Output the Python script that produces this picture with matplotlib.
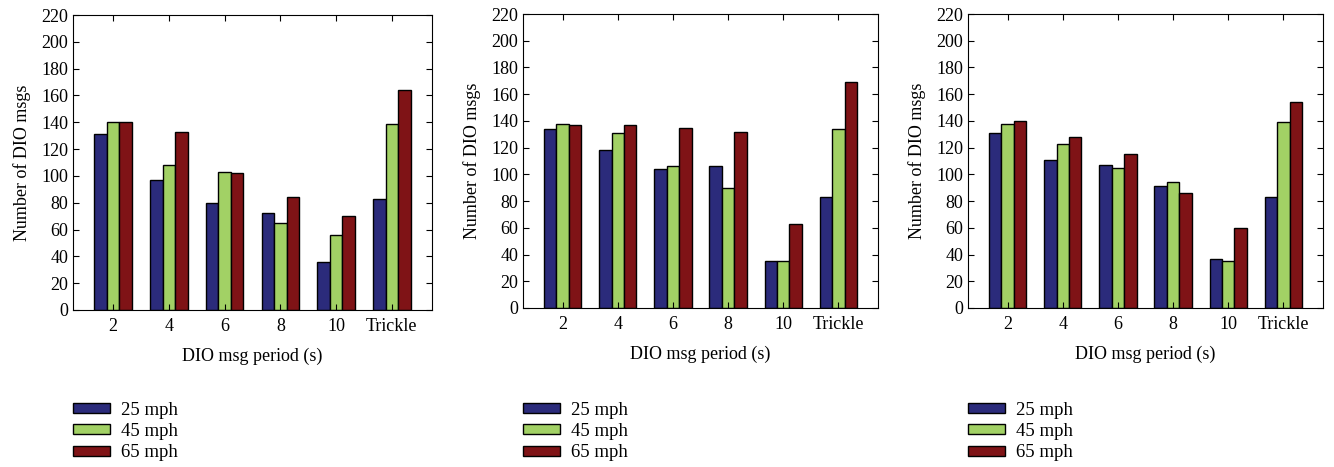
import numpy as np
import matplotlib
matplotlib.use("Agg")
import matplotlib.pyplot as plt
from matplotlib.patches import Patch

plt.rcParams['font.family'] = ['Liberation Serif', 'DejaVu Serif']

categories = ["2", "4", "6", "8", "10", "Trickle"]
series = ["25 mph", "45 mph", "65 mph"]
colors = ["#2b2b7b", "#a2d165", "#7f1316"]

# panel values: rows = speeds, columns = categories
panel1 = [
    [131, 97, 80, 72, 36, 83],
    [140, 108, 103, 65, 56, 139],
    [140, 133, 102, 84, 70, 164],
]
panel2 = [
    [134, 118, 104, 106, 35, 83],
    [138, 131, 106, 90, 35, 134],
    [137, 137, 135, 132, 63, 169],
]
panel3 = [
    [131, 111, 107, 91, 37, 83],
    [138, 123, 105, 94, 35, 139],
    [140, 128, 115, 86, 60, 154],
]
panels = [panel1, panel2, panel3]

W, H = 1334, 467
fig = plt.figure(figsize=(W / 100, H / 100), dpi=100)

# axes pixel boxes (left, right, top, bottom)
boxes = [(73, 432, 15, 310), (523, 878, 14, 308), (968, 1323, 14, 308)]

x = np.arange(1, len(categories) + 1)
bw = 0.225
for data, (l, r, t, b) in zip(panels, boxes):
    ax = fig.add_axes([l / W, 1 - b / H, (r - l) / W, (b - t) / H])
    for i, (vals, c) in enumerate(zip(data, colors)):
        ax.bar(x + (i - 1) * bw, vals, bw, color=c, edgecolor="black", linewidth=1.0)
    ax.set_xlim(0.28, 6.72)
    ax.set_ylim(0, 220)
    ax.set_yticks(range(0, 221, 20))
    ax.set_xticks(x)
    ax.set_xticklabels(categories)
    ax.tick_params(direction="in", top=True, right=True, labelsize=13, length=4)
    ax.tick_params(axis="x", pad=6)
    ax.set_xlabel("DIO msg period (s)", fontsize=13, labelpad=9)
    ax.set_ylabel("Number of DIO msgs", fontsize=13, labelpad=7)
    handles = [Patch(facecolor=c, edgecolor="black", label=s) for s, c in zip(series, colors)]
    fig.legend(handles=handles, loc="upper left",
               bbox_to_anchor=(l / W, 1 - 402 / H),
               frameon=False, fontsize=13.5, handlelength=1.95, handleheight=0.45,
               labelspacing=0.22, handletextpad=0.6, borderpad=0, borderaxespad=0)

fig.savefig("out.png", dpi=100)
